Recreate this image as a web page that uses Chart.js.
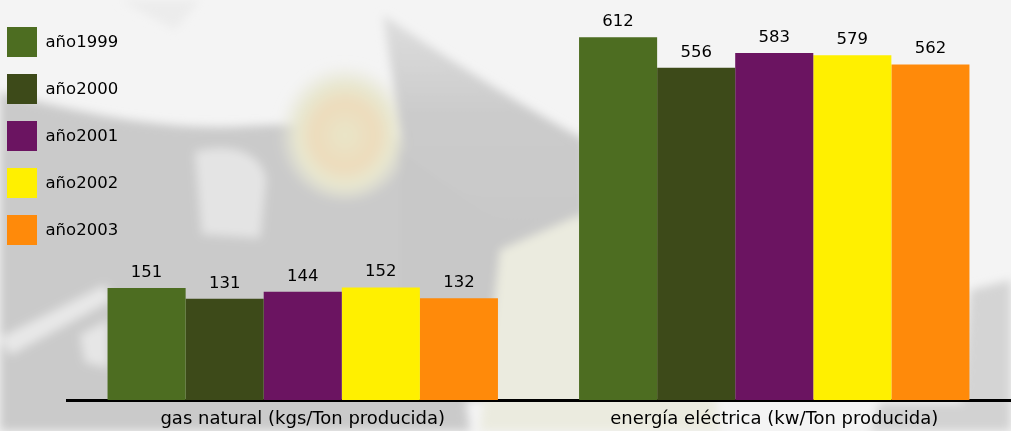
<!DOCTYPE html>
<html>
<head>
<meta charset="utf-8">
<script src="https://cdn.jsdelivr.net/npm/chart.js@4.4.1/dist/chart.umd.min.js"></script>
<style>
  html, body { margin: 0; padding: 0; background: #f4f4f4; }
  #wrap { position: relative; width: 1011px; height: 431px; overflow: hidden; }
  #bg { position: absolute; left: 0; top: 0; }
  #chart { position: absolute; left: 0; top: 0; }
</style>
</head>
<body>
<div id="wrap">
  <!-- soft photographic backdrop -->
  <svg id="bg" width="1011" height="431" viewBox="0 0 1011 431">
    <defs>
      <filter id="soft" x="-10%" y="-10%" width="120%" height="120%">
        <feGaussianBlur stdDeviation="5"/>
      </filter>
      <radialGradient id="bloom" cx="0.5" cy="0.55" r="0.5">
        <stop offset="0" stop-color="#e9e5c8"/>
        <stop offset="0.45" stop-color="#eddcbc"/>
        <stop offset="0.7" stop-color="#e8e7cf"/>
        <stop offset="1" stop-color="#e6e6da" stop-opacity="0"/>
      </radialGradient>
      <linearGradient id="wing" x1="0" y1="0" x2="0" y2="1">
        <stop offset="0" stop-color="#dedede"/>
        <stop offset="0.35" stop-color="#cbcbcb"/>
        <stop offset="1" stop-color="#c7c7c7"/>
      </linearGradient>
    </defs>
    <rect width="1011" height="431" fill="#f4f4f4"/>
    <g filter="url(#soft)">
      <path d="M120,0 L200,0 L175,30 Z" fill="#ececec"/>
      <path d="M0,92 C70,110 160,132 250,126 C320,122 380,128 430,150 L470,431 L0,431 Z" fill="#cacaca"/>
      <ellipse cx="345" cy="128" rx="68" ry="72" fill="url(#bloom)"/>
      <path d="M383,15 C450,60 520,105 585,140 L585,250 L520,300 L470,300 L420,260 Z" fill="url(#wing)"/>
      <path d="M400,150 L500,230 L500,400 L400,400 Z" fill="#c8c8c8"/>
      <path d="M195,152 C230,142 262,152 266,180 L260,238 L202,234 Z" fill="#e4e4e4"/>
      <path d="M500,250 L580,215 L700,260 L720,431 L480,431 Z" fill="#ebebdf"/>
      <path d="M970,290 L1011,280 L1011,431 L960,431 Z" fill="#d4d4d4"/>
      <path d="M880,403 L1011,403 L1011,431 L870,431 Z" fill="#d2d2d2"/>
      <path d="M0,338 L105,285 L112,300 L10,355 Z" fill="#e8e8e8"/>
      <path d="M80,335 L108,320 L108,368 L85,362 Z" fill="#e6e6e6"/>
      <path d="M250,403 L460,403 L470,431 L240,431 Z" fill="#cacaca"/>
    </g>
  </svg>
  <canvas id="chart" width="1011" height="431"></canvas>
</div>
<script>
// categories along the x axis
const categories = ['gas natural (kgs/Ton producida)', 'energía eléctrica (kw/Ton producida)'];

// one series per year
const seriesNames = ['año1999', 'año2000', 'año2001', 'año2002', 'año2003'];
const values1999 = [151, 612];
const values2000 = [131, 556];
const values2001 = [144, 583];
const values2002 = [152, 579];
const values2003 = [132, 562];
const seriesColors = ['#4d6d21', '#3d4a19', '#6b1461', '#fff000', '#ff8a0a'];

const seriesValues = [values1999, values2000, values2001, values2002, values2003];

// value axis range
const yMin = -55;
const yMax = 662;

const FONT = '"DejaVu Sans", Verdana, sans-serif';

// writes each bar's value above it
const valueLabels = {
  id: 'valueLabels',
  afterDatasetsDraw(chart) {
    const ctx = chart.ctx;
    ctx.save();
    ctx.font = '16.5px ' + FONT;
    ctx.fillStyle = '#000';
    ctx.textAlign = 'center';
    ctx.textBaseline = 'alphabetic';
    chart.data.datasets.forEach((ds, i) => {
      const meta = chart.getDatasetMeta(i);
      meta.data.forEach((bar, j) => {
        ctx.fillText(String(ds.data[j]), bar.x, bar.y - 11);
      });
    });
    ctx.restore();
  }
};

// legend column in the upper-left corner
const cornerLegend = {
  id: 'cornerLegend',
  afterDraw(chart) {
    const ctx = chart.ctx;
    ctx.save();
    ctx.font = '16.5px ' + FONT;
    ctx.textAlign = 'left';
    ctx.textBaseline = 'middle';
    chart.data.datasets.forEach((ds, i) => {
      const top = 27 + i * 47;
      ctx.fillStyle = ds.backgroundColor;
      ctx.fillRect(7, top, 30, 30);
      ctx.fillStyle = '#000';
      ctx.fillText(ds.label, 45.5, top + 16);
    });
    ctx.restore();
  }
};

new Chart(document.getElementById('chart'), {
  type: 'bar',
  data: {
    labels: categories,
    datasets: seriesNames.map((name, i) => ({
      label: name,
      data: seriesValues[i],
      backgroundColor: seriesColors[i],
      borderWidth: 0,
      base: yMin,
      barPercentage: 1.0,
      categoryPercentage: 0.828
    }))
  },
  options: {
    responsive: false,
    animation: false,
    layout: { padding: { left: 67, right: 1, top: 10, bottom: 0 } },
    plugins: {
      legend: { display: false },
      tooltip: { enabled: false }
    },
    scales: {
      x: {
        grid: { display: false, drawTicks: false },
        border: { display: true, color: '#000', width: 3 },
        ticks: { color: '#000', font: { family: FONT, size: 18 }, padding: 9 },
        afterFit(scale) { scale.height = 31; }
      },
      y: {
        display: false,
        min: yMin,
        max: yMax
      }
    }
  },
  plugins: [valueLabels, cornerLegend]
});
</script>
</body>
</html>
